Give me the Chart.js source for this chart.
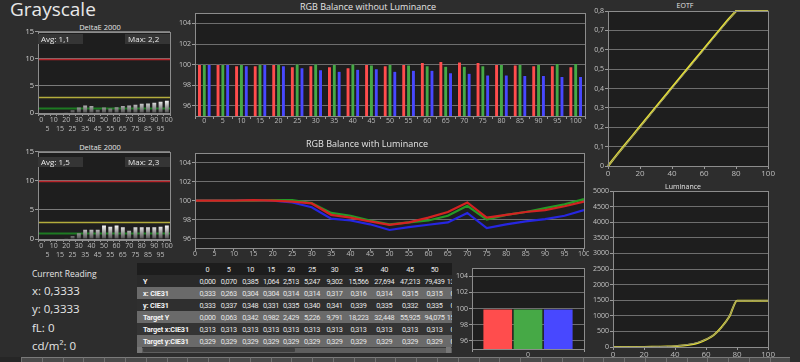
<!DOCTYPE html>
<html><head><meta charset="utf-8">
<script src="https://cdn.jsdelivr.net/npm/chart.js@4"></script>
<style>
html,body{margin:0;padding:0;width:800px;height:362px;overflow:hidden;background:#2d2d2d;font-family:'Open Sans',sans-serif;color:#ddd;}
.box{position:absolute;}
.ttl{position:absolute;color:#e4e4e4;white-space:nowrap;transform:translateX(-50%);}
.stat{position:absolute;background:#353535;color:#e8e8e8;font-size:8px;line-height:10px;height:10px;padding-left:3px;box-sizing:border-box;}
.cr{position:absolute;left:32px;color:#e6e6e6;white-space:nowrap;}
table{border-collapse:collapse;table-layout:fixed;font-size:7.3px;font-family:Roboto,sans-serif;letter-spacing:-0.35px;}
td{height:12px;padding:0;text-align:center;white-space:nowrap;overflow:hidden;color:#e6e6e6;}
td.lab{text-align:left;padding-left:6px;font-weight:bold;color:#f4f4f4;letter-spacing:-0.15px;}
</style></head>
<body>
<div class="ttl" style="top:-4px;font-size:19px;transform:none;left:10px;color:#e8e8e8;">Grayscale</div>

<div class="ttl" style="left:100px;top:22px;font-size:7.5px;">DeltaE 2000</div>
<div class="box" style="left:0;top:26px;width:175px;height:110px;"><canvas id="de1"></canvas></div>
<div class="ttl" style="left:100px;top:142px;font-size:7.5px;">DeltaE 2000</div>
<div class="box" style="left:0;top:146px;width:175px;height:116px;"><canvas id="de2"></canvas></div>

<div class="ttl" style="left:368px;top:0px;font-size:9px;">RGB Balance without Luminance</div>
<div class="box" style="left:170px;top:8px;width:420px;height:118px;"><canvas id="rgb1"></canvas></div>
<div class="ttl" style="left:367px;top:137px;font-size:9px;">RGB Balance with Luminance</div>
<div class="box" style="left:170px;top:148px;width:419px;height:114px;"><canvas id="rgb2"></canvas></div>

<div class="ttl" style="left:685px;top:1px;font-size:7px;">EOTF</div>
<div class="box" style="left:588px;top:0;width:187px;height:182px;"><canvas id="eotf"></canvas></div>
<div class="ttl" style="left:683px;top:182px;font-size:7px;">Luminance</div>
<div class="box" style="left:588px;top:182px;width:187px;height:180px;"><canvas id="lum"></canvas></div>

<div class="box" style="left:450px;top:263px;width:140px;height:99px;"><canvas id="cur"></canvas></div>

<div id="reading"></div>
<div id="tbl" class="box" style="left:137px;top:263px;width:315px;height:90px;overflow:hidden;background:#1d1d1d;"></div>
<div id="strip" class="box" style="left:0;top:357px;width:800px;height:5px;display:flex;"></div>
<div id="stats"></div>

<script>
// ---------------- DATA ----------------
const stimulus = ['0','5','10','15','20','25','30','35','40','45','50','55','60','65','70','75','80','85','90','95','100'];
const stimulusNum = [0,5,10,15,20,25,30,35,40,45,50,55,60,65,70,75,80,85,90,95,100];

const deltaE1 = [0,0,0,0,0.05,0.5,1.0,1.4,1.3,0.6,1.0,0.85,1.05,1.3,1.4,1.5,1.7,1.75,1.9,2.05,2.25];
const deltaE2 = [0,0,0,0,0.05,0.5,1.0,1.6,1.6,1.6,2.3,2.1,2.3,2.0,1.4,2.0,2.0,2.0,2.0,2.1,2.3];
const deltaEStats1 = ['Avg: 1,1','Max: 2,2'];
const deltaEStats2 = ['Avg: 1,5','Max: 2,3'];
const deltaETicks = [0,5,10,15];
const deltaELimits = [10, 3, 1];
const deltaELimitColors = ['#b8242a','#b3ac3c','#1d7a22'];

const balanceTicks = [96,98,100,102,104];
const balanceR = [100,100,99.9,99.9,100,99.8,99.9,99.8,99.7,100,99.9,100,100.2,100.3,100.25,100.2,100,99.95,99.9,99.9,99.8];
const balanceG = [100,100,100,100,100,100.05,100.05,100,100.05,99.95,100,99.95,99.9,99.85,99.85,99.9,100,100,100,100.1,100.1];
const balanceB = [100,100,99.9,100,99.9,99.7,99.5,99.35,99.55,99.6,99.35,99.45,99.45,99.2,99.15,99.0,99.0,98.95,98.95,98.85,98.85];

const lumBalR = [100,100,100,100.05,100,99.9,99.7,98.5,98.2,97.8,97.45,97.7,98.2,98.8,99.8,98.2,98.5,98.8,99.0,99.4,99.9];
const lumBalG = [100,100,100,100,100.05,100.05,99.75,98.7,98.4,97.9,97.5,97.7,97.9,98.4,99.45,98.0,98.5,98.8,99.2,99.6,100.15];
const lumBalB = [100,100,100,100.05,100,99.8,99.3,98.1,97.9,97.5,96.9,97.2,97.45,97.7,98.7,97.1,97.5,97.8,98.05,98.4,99.0];

const eotfTarget   = [0,0.05,0.1,0.15,0.2,0.25,0.3,0.35,0.4,0.45,0.5,0.55,0.6,0.65,0.7,0.75,0.8,0.8,0.8,0.8,0.8];
const eotfMeasured = [0,0.052,0.103,0.153,0.204,0.254,0.305,0.355,0.406,0.456,0.506,0.556,0.606,0.656,0.705,0.755,0.8,0.8,0.8,0.8,0.8];

const lumTarget   = [0,0.063,0.342,0.982,2.429,5.226,9.791,18.223,32.448,55.925,94.075,152,245,390,620,985,1480,1480,1480,1480,1480];
const lumMeasured = [0,0.070,0.385,1.064,2.513,5.247,9.302,15.566,27.694,47.213,79.439,138,240,385,640,975,1485,1485,1485,1485,1485];

const currentLabels = ['0'];
const currentR = [99.9], currentG = [99.9], currentB = [99.9];

const readingLines = ['Current Reading','x: 0,3333','y: 0,3333','fL: 0','cd/m²: 0'];

const tableCols = ['0','5','10','15','20','25','30','35','40','45','50','55'];
const tableRowLabels = ['Y','x: CIE31','y: CIE31','Target Y','Target x:CIE31','Target y:CIE31'];
const tableY  = ['0,000','0,070','0,385','1,064','2,513','5,247','9,302','15,566','27,694','47,213','79,439','138,210'];
const tableX  = ['0,333','0,263','0,304','0,304','0,314','0,314','0,317','0,316','0,314','0,315','0,315','0,315'];
const tableYy = ['0,333','0,337','0,348','0,331','0,335','0,340','0,341','0,339','0,335','0,332','0,335','0,335'];
const tableTY = ['0,000','0,063','0,342','0,982','2,429','5,226','9,791','18,223','32,448','55,925','94,075','152,180'];
const tableTx = ['0,313','0,313','0,313','0,313','0,313','0,313','0,313','0,313','0,313','0,313','0,313','0,313'];
const tableTy = ['0,329','0,329','0,329','0,329','0,329','0,329','0,329','0,329','0,329','0,329','0,329','0,329'];

// ---------------- STYLE / HELPERS ----------------
Chart.defaults.font.family = "'Open Sans', sans-serif";
Chart.defaults.font.size = 7;
Chart.defaults.color = '#bdbdbd';
Chart.defaults.animation = false;
Chart.defaults.maintainAspectRatio = false;
Chart.defaults.responsive = true;
Chart.defaults.plugins.legend.display = false;
Chart.defaults.plugins.tooltip.enabled = false;

const GRID = '#6e6e6e', BORDER = '#8c8c8c', PLOT = '#1e1e1e';

const plotFrame = {
  id: 'plotFrame',
  beforeDraw(chart, args, o) {
    const {ctx, chartArea: a} = chart;
    ctx.save(); ctx.fillStyle = o.bg || PLOT; ctx.fillRect(a.left, a.top, a.width, a.height); ctx.restore();
  },
  beforeDatasetsDraw(chart, args, o) {
    if (!o.lines) return;
    const {ctx, chartArea: a} = chart; const y = chart.scales.y;
    ctx.save();
    o.lines.forEach((v, i) => {
      const p = Math.round(y.getPixelForValue(v)) + 0.5;
      ctx.strokeStyle = o.colors[i]; ctx.lineWidth = o.widths ? o.widths[i] : 1.5;
      ctx.beginPath(); ctx.moveTo(a.left, p); ctx.lineTo(a.right, p); ctx.stroke();
    });
    ctx.restore();
  },
  afterDraw(chart) {
    const {ctx, chartArea: a} = chart;
    ctx.save(); ctx.strokeStyle = BORDER; ctx.lineWidth = 1;
    ctx.strokeRect(Math.round(a.left) + 0.5, Math.round(a.top) + 0.5, Math.round(a.width), Math.round(a.height));
    ctx.restore();
  }
};
Chart.register(plotFrame);

function yAxis(w, min, max, tickList, fmt, size) {
  return {
    min, max,
    afterFit: s => { s.width = w; },
    afterBuildTicks: s => { s.ticks = tickList.map(v => ({ value: v })); },
    ticks: { padding: 1, color: '#c4c4c4', font: { size: size || 7 }, callback: fmt || (v => String(v)) },
    grid: { color: GRID, tickLength: 3, tickColor: '#999' },
    border: { color: BORDER }
  };
}
function xCat(h, pad, size) {
  return { afterFit: s => { s.height = h; },
    ticks: { autoSkip: false, maxRotation: 0, padding: pad, font: { size: size || 7 } },
    grid: { drawOnChartArea: false, tickLength: 3, color: '#9a9a9a' }, border: { color: BORDER } };
}

// ---------------- DeltaE charts ----------------
function deltaE(id, data, stats, box) {
  const x = xCat(box.xh, -1, 7);
  x.ticks.font = { size: 7, lineHeight: 1.3 };
  x.ticks.callback = (v, i) => i % 2 === 0 ? stimulus[i] : ['', stimulus[i]];
  const y = yAxis(38, 0, 15, deltaETicks, null, 7.5);
  y.ticks.color = '#d0d0d0';
  y.grid.color = '#7a7a7a';
  new Chart(document.getElementById(id), {
    type: 'bar',
    data: { labels: stimulus, datasets: [{
      data,
      backgroundColor: (ctx) => {
        const ch = ctx.chart; if (!ch.chartArea) return '#ccc';
        const ys = ch.scales.y;
        const g = ch.ctx.createLinearGradient(0, ys.getPixelForValue(0), 0, ys.getPixelForValue(2.4));
        g.addColorStop(0, '#4a4a4a'); g.addColorStop(1, '#ffffff');
        return g;
      },
      barPercentage: 0.62, categoryPercentage: 1
    }]},
    options: {
      layout: { padding: { top: 5, right: 5 } },
      scales: { x, y },
      plugins: { plotFrame: { lines: deltaELimits, colors: deltaELimitColors, widths: [1.5, 1.5, 2] } }
    }
  });
  document.getElementById('stats').insertAdjacentHTML('beforeend',
    `<div class="stat" style="left:38px;top:${box.sy}px;width:45px;">${stats[0]}</div>` +
    `<div class="stat" style="left:125px;top:${box.sy}px;width:45px;">${stats[1]}</div>`);
}
deltaE('de1', deltaE1, deltaEStats1, { xh: 23, sy: 34 });
deltaE('de2', deltaE2, deltaEStats2, { xh: 23, sy: 157 });

// ---------------- RGB balance bars ----------------
const RED = '#ff4d4d', GREEN = '#46a946', BLUE = '#4848ff';
function barDs(data, col) {
  return { data, backgroundColor: col, borderColor: 'rgba(0,0,0,0.35)', borderWidth: 0.5, barPercentage: 0.82, categoryPercentage: 0.78 };
}
new Chart(document.getElementById('rgb1'), {
  type: 'bar',
  data: { labels: stimulus, datasets: [barDs(balanceR, RED), barDs(balanceG, GREEN), barDs(balanceB, BLUE)] },
  options: {
    layout: { padding: { top: 4, right: 5 } },
    scales: { x: xCat(10, -2, 7), y: yAxis(25, 95, 105, balanceTicks) }
  }
});

// ---------------- RGB balance lines ----------------
function lineDs(data, col) {
  return { data: stimulusNum.map((x, i) => ({ x, y: data[i] })), borderColor: col, borderWidth: 2.2, pointRadius: 0, tension: 0 };
}
const xLin5 = xCat(14, -1, 7);
Object.assign(xLin5, { type: 'linear', min: 0, max: 100 });
xLin5.ticks.stepSize = 5;
new Chart(document.getElementById('rgb2'), {
  type: 'line',
  data: { datasets: [lineDs(lumBalR, '#d42222'), lineDs(lumBalG, '#259a25'), lineDs(lumBalB, '#2626e0')] },
  options: {
    layout: { padding: { top: 4, right: 5 } },
    scales: { x: xLin5, y: yAxis(25, 95, 105, balanceTicks) }
  }
});

// ---------------- EOTF ----------------
function curveDs(data, col, w, t) {
  return { data: stimulusNum.map((x, i) => ({ x, y: data[i] })), borderColor: col, borderWidth: w, pointRadius: 0, clip: 4,
           tension: t, cubicInterpolationMode: t ? 'monotone' : 'default' };
}
const eotfTicks = [0,0.1,0.2,0.3,0.4,0.5,0.6,0.7,0.8];
const xE = xCat(16, 0, 8); Object.assign(xE, { type: 'linear', min: 0, max: 100 }); xE.ticks.stepSize = 20;
new Chart(document.getElementById('eotf'), {
  type: 'line',
  data: { datasets: [curveDs(eotfTarget, '#8a8a70', 1, 0), curveDs(eotfMeasured, '#e8e234', 2.2, 0)] },
  options: {
    layout: { padding: { top: 11, right: 6 } },
    scales: { x: xE, y: yAxis(20, 0, 0.8, eotfTicks, v => (Math.abs(v) < 1e-9 ? '0' : v.toFixed(1).replace('.', ','))) }
  }
});

// ---------------- Luminance ----------------
const lumTicks = [0,500,1000,1500,2000,2500,3000,3500,4000,4500,5000];
const xL = xCat(15, 0, 8); Object.assign(xL, { type: 'linear', min: 0, max: 100 }); xL.ticks.stepSize = 20;
new Chart(document.getElementById('lum'), {
  type: 'line',
  data: { datasets: [curveDs(lumTarget, '#8a8a70', 1, 0.4), curveDs(lumMeasured, '#e8e234', 2, 0.4)] },
  options: {
    layout: { padding: { top: 9, right: 6 } },
    scales: { x: xL, y: yAxis(25, 0, 5000, lumTicks) }
  }
});

// ---------------- Current reading bars ----------------
new Chart(document.getElementById('cur'), {
  type: 'bar',
  data: { labels: currentLabels, datasets: [
    { data: currentR, backgroundColor: RED, barPercentage: 0.95, categoryPercentage: 0.81 },
    { data: currentG, backgroundColor: GREEN, barPercentage: 0.95, categoryPercentage: 0.81 },
    { data: currentB, backgroundColor: BLUE, barPercentage: 0.95, categoryPercentage: 0.81 } ] },
  options: {
    layout: { padding: { top: 4, right: 6 } },
    scales: { x: xCat(13, -1, 7), y: yAxis(22, 95, 105, balanceTicks) }
  }
});

// ---------------- Current reading text ----------------
const rd = document.getElementById('reading');
const rdTops = [269, 284, 302, 321, 339];
const rdSizes = [8.5, 11.5, 11.5, 11.5, 11.5];
readingLines.forEach((t, i) => {
  rd.insertAdjacentHTML('beforeend', `<div class="cr" style="top:${rdTops[i]}px;font-size:${rdSizes[i]}px;line-height:${rdSizes[i] + 2}px;">${t}</div>`);
});

// ---------------- Table ----------------
const colW = [60, 21, 21.5, 21.5, 20, 20, 22, 23, 25, 26.5, 25, 24, 24];
const rowBg = ['#2a2a2a', '#6a6a6a', '#2f2f2f', '#6a6a6a', '#343434', '#6a6a6a'];
const rows = [tableY, tableX, tableYy, tableTY, tableTx, tableTy];
let html = '<table style="width:' + colW.reduce((a, b) => a + b, 0) + 'px"><colgroup>' + colW.map(w => `<col style="width:${w}px">`).join('') + '</colgroup>';
html += '<tr style="background:#1d1d1d"><td></td>' + tableCols.map(c => `<td>${c}</td>`).join('') + '</tr>';
rows.forEach((r, i) => {
  html += `<tr style="background:${rowBg[i]}"><td class="lab">${tableRowLabels[i]}</td>` + r.map(v => `<td>${v}</td>`).join('') + '</tr>';
});
html += '</table>';
html += '<div style="position:absolute;left:0;top:84px;width:315px;height:6px;background:#5e5e5e;border-top:1px solid #3a3a3a;box-sizing:border-box;"></div>';
html += '<div style="position:absolute;left:6px;top:85px;width:152px;height:4px;background:#3f3f3f;border-radius:1px;"></div>';
html += '<div style="position:absolute;left:0;top:84px;width:5px;height:6px;background:#777;"></div>';
html += '<div style="position:absolute;left:309px;top:84px;width:5px;height:6px;background:#777;"></div>';
document.getElementById('tbl').innerHTML = html;

// ---------------- Bottom strip ----------------
const strip = document.getElementById('strip');
let sh = '<div style="width:21px;background:#262626"></div>';
for (let i = 0; i < 37; i++) sh += '<div style="width:19.8px;background:#4a4a4a;border-left:1px solid #6f6f6f;border-top:1px solid #7a7a7a;box-sizing:content-box;"></div>';
strip.innerHTML = sh;
</script>
</body></html>
